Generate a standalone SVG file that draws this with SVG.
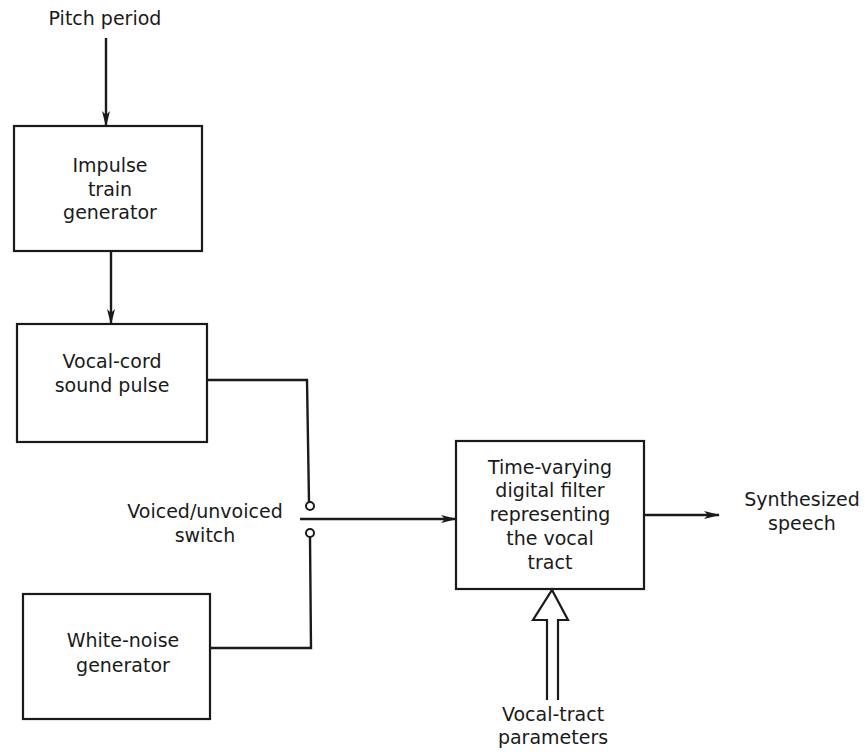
<svg xmlns="http://www.w3.org/2000/svg" width="867" height="752" viewBox="0 0 867 752">
<defs>
<style>
text{font-family:"DejaVu Sans","Liberation Sans",sans-serif;font-size:19px;fill:#1a1a1a;text-anchor:middle}
.box{fill:none;stroke:#1a1a1a;stroke-width:2.2}
.ln{fill:none;stroke:#1a1a1a;stroke-width:2.4}
</style>
<marker id="ah" markerWidth="16" markerHeight="10" refX="15" refY="5" orient="auto" markerUnits="userSpaceOnUse">
<path d="M0,1 L16,5 L0,9 L4,5 Z" fill="#1a1a1a"/>
</marker>
</defs>
<rect width="867" height="752" fill="#fff"/>
<g id="pitch-label"><text x="105" y="25">Pitch period</text></g>
<g id="impulse">
<rect class="box" x="14" y="126" width="188" height="125"/>
<text x="110" y="172">Impulse</text>
<text x="110" y="196">train</text>
<text x="110" y="219">generator</text>
</g>
<g id="vocalcord">
<rect class="box" x="17" y="324" width="190" height="118"/>
<text x="112" y="368">Vocal-cord</text>
<text x="112" y="392">sound pulse</text>
</g>
<g id="whitenoise">
<rect class="box" x="23" y="594" width="187" height="125"/>
<text x="123" y="647">White-noise</text>
<text x="123" y="672">generator</text>
</g>
<g id="filter">
<rect class="box" x="456" y="441" width="188" height="148"/>
<text x="550" y="474">Time-varying</text>
<text x="550" y="497">digital filter</text>
<text x="550" y="521">representing</text>
<text x="550" y="545">the vocal</text>
<text x="550" y="569">tract</text>
</g>
<g id="switch">
<text x="205" y="518">Voiced/unvoiced</text>
<text x="205" y="542">switch</text>
<circle cx="310" cy="506" r="4" fill="#fff" stroke="#1a1a1a" stroke-width="2"/>
<circle cx="310" cy="533" r="4" fill="#fff" stroke="#1a1a1a" stroke-width="2"/>
</g>
<g id="output-label">
<text x="802" y="506">Synthesized</text>
<text x="802" y="530">speech</text>
</g>
<g id="params-label">
<text x="553" y="721">Vocal-tract</text>
<text x="553" y="744">parameters</text>
</g>
<g id="connectors">
<line class="ln" x1="106" y1="38" x2="106" y2="126" marker-end="url(#ah)"/>
<line class="ln" x1="111" y1="251" x2="111" y2="324" marker-end="url(#ah)"/>
<polyline class="ln" points="207,380 307,380 309,502"/>
<polyline class="ln" points="210,648 311,648 310,537"/>
<line class="ln" x1="300" y1="519" x2="456" y2="519" marker-end="url(#ah)"/>
<line class="ln" x1="644" y1="515" x2="719" y2="515" marker-end="url(#ah)"/>
<path d="M547,700 L547,620 L533,620 L552,590 L568,620 L558,620 L558,700" fill="none" stroke="#1a1a1a" stroke-width="2.2" stroke-linejoin="miter"/>
</g>
</svg>
